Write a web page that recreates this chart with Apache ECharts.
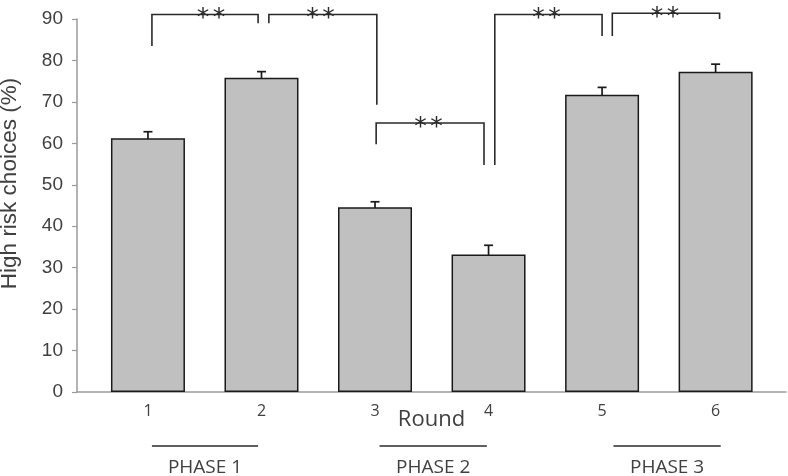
<!DOCTYPE html>
<html><head><meta charset="utf-8">
<script src="https://cdn.jsdelivr.net/npm/echarts@6/dist/echarts.min.js"></script>
<style>html,body{margin:0;padding:0;background:#fff}#c{width:788px;height:476px}</style>
</head><body><div id="c"></div>
<script>
// ---- data ----
const categories = ['1', '2', '3', '4', '5', '6'];
const roundPos = [1, 2, 3, 4, 5, 6];
const riskPct = [61.2, 75.8, 44.6, 33.2, 71.7, 77.3];
const errLow = [59.8, 74.2, 43.1, 31.6, 69.8, 75.5];
const errHigh = [62.8, 77.3, 45.9, 35.4, 73.5, 79.1];
const bracketFrom = [1.035, 2.065, 3.01, 4.055, 5.09];
const bracketTo = [1.97, 3.016, 3.96, 5.0, 6.035];
const bracketLeftY = [83.5, 89.0, 59.8, 54.8, 85.9];
const bracketTopY = [91.1, 91.1, 64.9, 91.1, 91.4];
const bracketRightY = [89.0, 69.3, 54.8, 85.9, 90.0];
const bracketStarX = [1.555, 2.52, 3.47, 4.51, 5.555];
const bracketMark = '*';
const phaseLabels = ['PHASE 1', 'PHASE 2', 'PHASE 3'];
const phaseFrom = [1.035, 3.04, 5.1];
const phaseTo = [1.97, 3.985, 6.045];
const yMin = 0, yMax = 90, yStep = 10;

const TXT = '#404040';
const chart = echarts.init(document.getElementById('c'), null, {renderer: 'canvas'});

const option = {
  animation: false,
  backgroundColor: '#fff',
  grid: {left: 77, right: 2, top: 19, bottom: 84, outerBoundsMode: 'none', containLabel: false},
  xAxis: {
    type: 'value', min: 0.375, max: 6.62,
    splitLine: {show: false},
    axisLine: {show: true, lineStyle: {color: '#9a9a9a', width: 1.5}},
    axisTick: {show: false},
    axisLabel: {
      customValues: roundPos,
      formatter: v => categories[roundPos.indexOf(v)],
      fontFamily: 'Open Sans', fontSize: 16, color: TXT, margin: 11
    },
    name: 'Round', nameLocation: 'middle', nameGap: 17, nameMoveOverlap: false,
    nameTextStyle: {fontFamily: 'Open Sans', fontSize: 22, color: TXT}
  },
  yAxis: {
    type: 'value', min: yMin, max: yMax, interval: yStep,
    splitLine: {show: false},
    axisLine: {show: true, lineStyle: {color: '#9a9a9a', width: 1.5}},
    axisTick: {show: true, length: 5, lineStyle: {color: '#9a9a9a', width: 1.2}},
    axisLabel: {fontFamily: 'Liberation Sans', fontSize: 19, color: TXT, margin: 14},
    name: 'High risk choices (%)', nameLocation: 'middle', nameGap: 56, nameRotate: 90, nameMoveOverlap: false,
    nameTextStyle: {fontFamily: 'Liberation Sans', fontSize: 22.5, color: TXT, padding: [0, 0, 0, 44]}
  },
  series: [
    {
      type: 'bar', barWidth: 74,
      data: roundPos.map((x, i) => [x, riskPct[i]]),
      itemStyle: {color: '#c0c0c0', borderColor: '#1a1a1a', borderWidth: 1.5}
    },
    {
      type: 'custom', clip: false,
      data: roundPos.map((x, i) => [x, errLow[i], errHigh[i]]),
      encode: {x: 0, y: [1, 2]},
      renderItem: (params, api) => {
        const lo = api.coord([api.value(0), api.value(1)]);
        const hi = api.coord([api.value(0), api.value(2)]);
        const w = 4.5;
        const st = {stroke: '#1a1a1a', lineWidth: 1.7, fill: null};
        return {type: 'group', children: [
          {type: 'line', shape: {x1: lo[0], y1: lo[1], x2: hi[0], y2: hi[1]}, style: st},
          {type: 'line', shape: {x1: lo[0] - w, y1: lo[1], x2: lo[0] + w, y2: lo[1]}, style: st},
          {type: 'line', shape: {x1: hi[0] - w, y1: hi[1], x2: hi[0] + w, y2: hi[1]}, style: st}
        ]};
      }
    },
    {
      type: 'custom', clip: false,
      data: bracketFrom.map((f, i) => [f, bracketTo[i], bracketLeftY[i], bracketTopY[i], bracketRightY[i], bracketStarX[i]]),
      encode: {x: [0, 1], y: [2, 3, 4]},
      renderItem: (params, api) => {
        const f = api.value(0), t = api.value(1);
        const a = api.coord([f, api.value(2)]);
        const b = api.coord([f, api.value(3)]);
        const c = api.coord([t, api.value(3)]);
        const d = api.coord([t, api.value(4)]);
        const mx = api.coord([api.value(5), api.value(3)])[0];
        const star = dx => ({type: 'text', style: {
          text: bracketMark, x: mx + dx, y: b[1] + 4,
          align: 'center', verticalAlign: 'middle',
          font: '25px "DejaVu Sans"', fill: '#2a2a2a'}});
        return {type: 'group', children: [
          {type: 'polyline', shape: {points: [a, b, c, d]},
           style: {stroke: '#2a2a2a', lineWidth: 1.6, fill: null}},
          star(-8), star(8)
        ]};
      }
    },
    {
      type: 'custom', clip: false,
      data: phaseFrom.map((f, i) => [f, phaseTo[i], 0]),
      encode: {x: [0, 1], y: 2},
      renderItem: (params, api) => {
        const a = api.coord([api.value(0), api.value(2)]);
        const b = api.coord([api.value(1), api.value(2)]);
        const y = a[1] + 54;
        return {type: 'group', children: [
          {type: 'line', shape: {x1: a[0], y1: y, x2: b[0], y2: y},
           style: {stroke: '#2a2a2a', lineWidth: 1.5}},
          {type: 'text', style: {
            text: phaseLabels[params.dataIndex],
            x: (a[0] + b[0]) / 2, y: y + 22,
            align: 'center', verticalAlign: 'middle',
            font: '19px "Open Sans"', fill: TXT}}
        ]};
      }
    }
  ]
};
chart.setOption(option);
</script>
</body></html>
